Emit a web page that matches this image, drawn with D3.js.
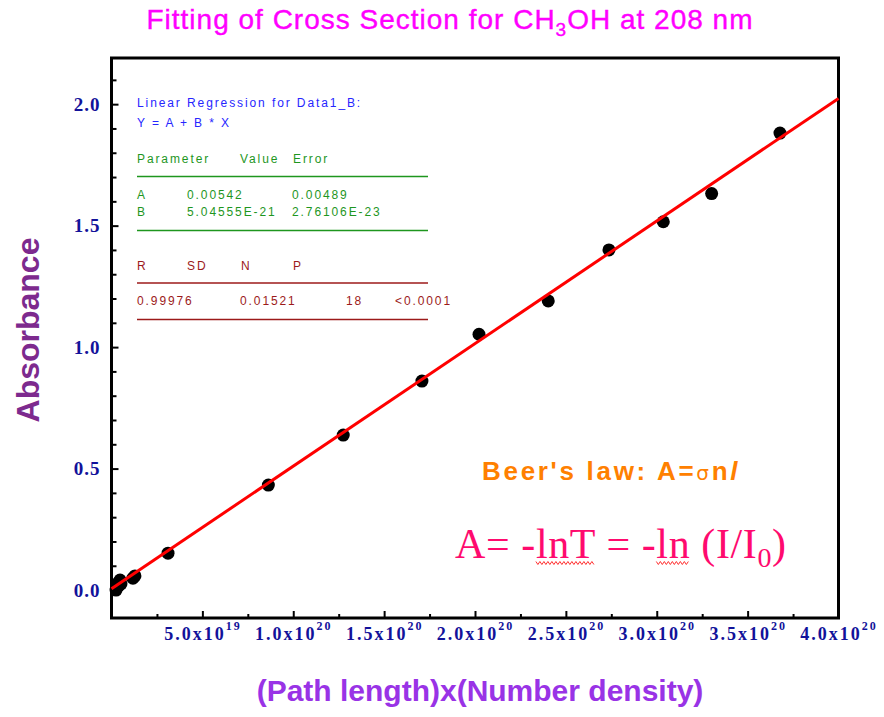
<!DOCTYPE html>
<html><head><meta charset="utf-8">
<script src="https://cdn.jsdelivr.net/npm/d3@7"></script>
<style>
  body { margin: 0; background: #fff; }
  svg { display: block; }
</style>
</head><body>
<svg id="chart" width="884" height="717"></svg>
<script>
// Path length x number density (molecules/cm^2) and the measured absorbance
const columnDensity = [0.25e19, 0.30e19, 0.36e19, 0.47e19, 0.52e19, 1.18e19, 1.29e19, 3.11e19,
  8.63e19, 1.275e20, 1.708e20, 2.022e20, 2.403e20, 2.737e20, 3.036e20, 3.302e20, 3.678e20, 0.40e19];
const absorbance = [0.000, 0.012, 0.029, 0.041, 0.025, 0.049, 0.058, 0.152,
  0.432, 0.638, 0.860, 1.053, 1.190, 1.400, 1.516, 1.632, 1.881, 0.018];

// Linear regression result, Y = A + B*X
const fitA = 0.00542;
const fitB = 5.04555e-21;

const yMajorTicks = [0, 0.5, 1.0, 1.5, 2.0];
const yMinorTicks = [0.1, 0.2, 0.3, 0.4, 0.6, 0.7, 0.8, 0.9, 1.1, 1.2, 1.3, 1.4, 1.6, 1.7, 1.8, 1.9, 2.1];
const xMajorTicks = [5e19, 1e20, 1.5e20, 2e20, 2.5e20, 3e20, 3.5e20, 4e20];
const xMinorTicks = [2.5e19, 7.5e19, 1.25e20, 1.75e20, 2.25e20, 2.75e20, 3.25e20, 3.75e20];

const statsHeader1 = ["Parameter", "Value", "Error"];
const statsRowA = ["A", "0.00542", "0.00489"];
const statsRowB = ["B", "5.04555E-21", "2.76106E-23"];
const statsHeader2 = ["R", "SD", "N", "P"];
const statsRow2 = ["0.99976", "0.01521", "18", "<0.0001"];

const svg = d3.select("#chart");
const plot = { left: 111.5, right: 838.5, top: 58, bottom: 618 };

const x = d3.scaleLinear().domain([0, 4e20]).range([plot.left, plot.right]);
const y = d3.scaleLinear().domain([-0.115, 2.19]).range([plot.bottom, plot.top]);

// Title with subscript
const title = svg.append("text")
  .attr("x", 450).attr("y", 29)
  .attr("text-anchor", "middle")
  .attr("font-family", "Liberation Sans, Arial, sans-serif")
  .attr("font-size", 28)
  .attr("letter-spacing", 1)
  .attr("fill", "#ff00ff")
  .attr("stroke", "#ff00ff").attr("stroke-width", 0.4);
title.append("tspan").text("Fitting of Cross Section for CH");
title.append("tspan").attr("font-size", 19).attr("dy", 7).text("3");
title.append("tspan").attr("dy", -7).text("OH at 208 nm");

// Y axis: major and minor ticks pointing into the plot
const tickFont = "Liberation Serif, Times New Roman, serif";
const yAxis = svg.append("g").attr("transform", `translate(${plot.left},0)`)
  .call(d3.axisLeft(y).tickValues(yMajorTicks).tickSize(-7).tickPadding(11).tickFormat(d3.format(".1f")));
yAxis.select(".domain").remove();
yAxis.selectAll(".tick line").attr("stroke", "#000").attr("stroke-width", 2);
yAxis.selectAll(".tick text")
  .attr("font-family", tickFont).attr("font-weight", "bold").attr("font-size", 19)
  .attr("fill", "#12129a").attr("letter-spacing", 1);

const yMinor = svg.append("g").attr("transform", `translate(${plot.left},0)`)
  .call(d3.axisLeft(y).tickValues(yMinorTicks).tickSize(-5).tickFormat(""));
yMinor.select(".domain").remove();
yMinor.selectAll(".tick line").attr("stroke", "#000").attr("stroke-width", 2);

// X axis: ticks point upward, labels in scientific notation
const xAxis = svg.append("g").attr("transform", `translate(0,${plot.bottom})`)
  .call(d3.axisBottom(x).tickValues(xMajorTicks).tickSize(-7).tickFormat(""));
xAxis.select(".domain").remove();
xAxis.selectAll(".tick line").attr("stroke", "#000").attr("stroke-width", 2);
xAxis.selectAll(".tick").each(function(d) {
  const exp = Math.floor(Math.log10(d) + 1e-9);
  const mant = (d / Math.pow(10, exp)).toFixed(1);
  const t = d3.select(this).append("text")
    .attr("x", 0).attr("y", 22)
    .attr("text-anchor", "middle")
    .attr("font-family", tickFont).attr("font-weight", "bold")
    .attr("font-size", 18).attr("fill", "#12129a").attr("letter-spacing", 2);
  t.append("tspan").text(mant + "x10");
  t.append("tspan").attr("font-size", 12).attr("dy", -10).text(exp);
});

const xMinor = svg.append("g").attr("transform", `translate(0,${plot.bottom})`)
  .call(d3.axisBottom(x).tickValues(xMinorTicks).tickSize(-4).tickFormat(""));
xMinor.select(".domain").remove();
xMinor.selectAll(".tick line").attr("stroke", "#000").attr("stroke-width", 2);

// Frame
svg.append("rect")
  .attr("x", plot.left).attr("y", plot.top)
  .attr("width", plot.right - plot.left).attr("height", plot.bottom - plot.top)
  .attr("fill", "none").attr("stroke", "#000").attr("stroke-width", 3);

// Data points
svg.append("g").selectAll("circle")
  .data(columnDensity.map((c, i) => [c, absorbance[i]]))
  .join("circle")
  .attr("cx", d => x(d[0])).attr("cy", d => y(d[1]))
  .attr("r", 6.5).attr("fill", "#000");

// Fitted line
const fitX = [0, 4e20];
svg.append("path")
  .datum(fitX)
  .attr("d", d3.line().x(d => x(d)).y(d => y(fitA + fitB * d)))
  .attr("stroke", "#ff0000").attr("stroke-width", 3).attr("fill", "none");

// Regression summary box
const small = "Liberation Sans, Arial, sans-serif";
function row(texts, xs, yy, color) {
  texts.forEach((s, i) => {
    svg.append("text").attr("x", xs[i]).attr("y", yy)
      .attr("font-family", small).attr("font-size", 12)
      .attr("letter-spacing", 1.9).attr("fill", color).text(s);
  });
}
function rule(yy, color) {
  svg.append("line").attr("x1", 137).attr("x2", 428).attr("y1", yy).attr("y2", yy)
    .attr("stroke", color).attr("stroke-width", 1.5);
}
const blue = "#2626ff", green = "#1e961e", maroon = "#9c1a1a";
row(["Linear Regression for Data1_B:"], [137], 107, blue);
row(["Y = A + B * X"], [137], 127, blue);
row(statsHeader1, [137, 240, 293], 163, green);
rule(176.5, green);
row(statsRowA, [137, 187, 292], 199, green);
row(statsRowB, [137, 187, 292], 216, green);
rule(230.5, green);
row(statsHeader2, [137, 187, 241, 293], 270, maroon);
rule(283, maroon);
row(statsRow2, [137, 240, 346, 395], 305, maroon);
rule(319.5, maroon);

// Beer's law annotation
const beer = svg.append("text").attr("x", 482).attr("y", 480)
  .attr("font-family", small).attr("font-weight", "bold").attr("font-size", 26)
  .attr("fill", "#ff8000").attr("letter-spacing", 2.7);
beer.append("tspan").text("Beer's law: A=");
beer.append("tspan").attr("font-weight", "normal").attr("font-size", 20).attr("font-family", "DejaVu Sans, sans-serif").text("σ");
beer.append("tspan").text("n");
beer.append("tspan").attr("font-style", "italic").text("l");

// Absorbance definition
const formula = svg.append("text").attr("x", 455).attr("y", 558)
  .attr("font-family", tickFont).attr("font-size", 42)
  .attr("letter-spacing", 0.6)
  .attr("fill", "#ff0a6e");
formula.append("tspan").text("A= -");
formula.append("tspan").attr("id", "ln1").text("lnT");
formula.append("tspan").text(" = -");
formula.append("tspan").attr("id", "ln2").text("ln");
formula.append("tspan").text(" (I/I");
formula.append("tspan").attr("font-size", 28).attr("dy", 9).text("0");
formula.append("tspan").attr("dy", -9).text(")");

// Wavy underline under the "ln" words
function squiggle(id) {
  const node = document.getElementById(id);
  const n = node.getNumberOfChars();
  const s = node.getStartPositionOfChar(0).x;
  const e = node.getEndPositionOfChar(n - 1).x;
  const pts = [];
  for (let px = s, k = 0; px <= e; px += 2, k++) pts.push([px, 563 + (k % 2 ? 1.5 : -1.5)]);
  svg.append("path").attr("d", d3.line()(pts))
    .attr("stroke", "#ff3030").attr("stroke-width", 1).attr("fill", "none");
}
squiggle("ln1");
squiggle("ln2");

// Axis titles
svg.append("text")
  .attr("transform", "translate(39,330) rotate(-90)")
  .attr("text-anchor", "middle")
  .attr("font-family", small).attr("font-weight", "bold").attr("font-size", 32)
  .attr("fill", "#7d2a8e").text("Absorbance");
svg.append("text")
  .attr("x", 480).attr("y", 701)
  .attr("text-anchor", "middle")
  .attr("font-family", small).attr("font-weight", "bold").attr("font-size", 30)
  .attr("fill", "#9933e6").text("(Path length)x(Number density)");
</script>
</body></html>
